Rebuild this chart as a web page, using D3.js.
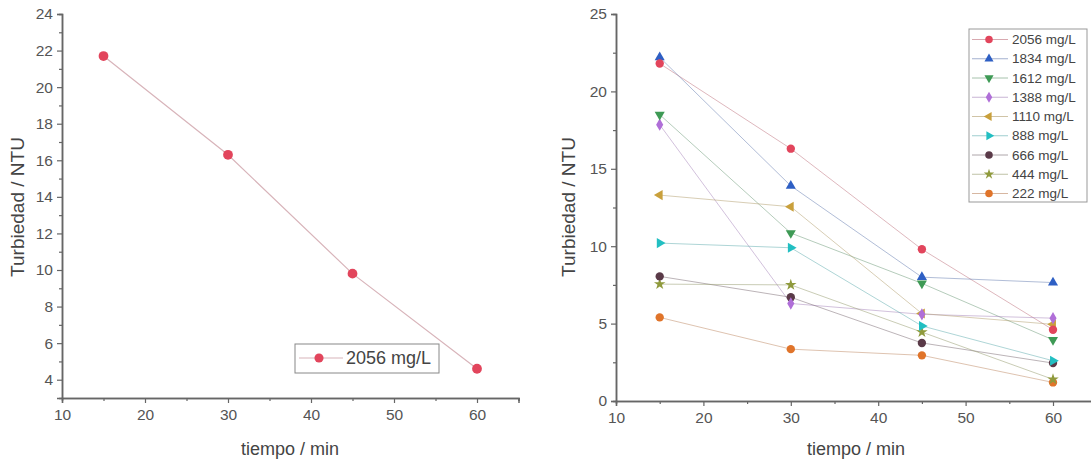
<!DOCTYPE html>
<html>
<head>
<meta charset="utf-8">
<script src="https://cdn.jsdelivr.net/npm/d3@7"></script>
<style>
  body { margin: 0; background: #fff; }
  svg { font-family: "Liberation Sans", Arial, sans-serif; }
  .tick text { fill: #555; }
</style>
</head>
<body>
<div id="chart"></div>
<script>
var times = [15, 30, 45, 60];
var leftValues = [21.7, 16.3, 9.8, 4.6];

var seriesNames = ["2056 mg/L", "1834 mg/L", "1612 mg/L", "1388 mg/L", "1110 mg/L", "888 mg/L", "666 mg/L", "444 mg/L", "222 mg/L"];
var s2056 = [21.8, 16.3, 9.8, 4.6];
var s1834 = [22.2, 13.9, 8.0, 7.65];
var s1612 = [18.5, 10.85, 7.6, 3.95];
var s1388 = [17.85, 6.3, 5.6, 5.35];
var s1110 = [13.3, 12.55, 5.65, 4.95];
var s888 = [10.2, 9.9, 4.85, 2.6];
var s666 = [8.05, 6.7, 3.75, 2.45];
var s444 = [7.55, 7.5, 4.45, 1.4];
var s222 = [5.4, 3.35, 2.95, 1.2];
var seriesValues = [s2056, s1834, s1612, s1388, s1110, s888, s666, s444, s222];

var colors = ["#e2455c", "#2e5fc4", "#3e9a55", "#b06fd8", "#c9a03c", "#22bfc2", "#5a3a48", "#8f9a3c", "#e0742a"];
var shapes = ["circle", "up", "down", "diamond", "left", "right", "circle", "star", "circle"];

var leftTicksY = [4, 6, 8, 10, 12, 14, 16, 18, 20, 22, 24];
var rightTicksY = [0, 5, 10, 15, 20, 25];
var ticksX = [10, 20, 30, 40, 50, 60];

var width = 1091, height = 461;
var svg = d3.select("#chart").append("svg").attr("width", width).attr("height", height);

function symbolPath(shape, size) {
  var t = d3.symbolCircle, rot = 0;
  if (shape == "up") t = d3.symbolTriangle;
  if (shape == "down") { t = d3.symbolTriangle; rot = 180; }
  if (shape == "left") { t = d3.symbolTriangle; rot = -90; }
  if (shape == "right") { t = d3.symbolTriangle; rot = 90; }
  if (shape == "diamond") t = d3.symbolDiamond;
  if (shape == "star") t = d3.symbolStar;
  return {d: d3.symbol().type(t).size(size)(), rot: rot};
}

function drawMarker(g, x, y, shape, color, size) {
  var s = symbolPath(shape, size);
  g.append("path")
    .attr("d", s.d)
    .attr("transform", `translate(${x},${y}) rotate(${s.rot})`)
    .attr("fill", color);
}

function markerSize(shape, base) {
  if (shape == "circle") return base;
  if (shape == "star") return base * 0.75;
  return base * 0.8;
}

function drawAxes(xScale, yScale, yMajor, yMinor, xMinor) {
  svg.append("g")
    .attr("transform", `translate(0,${yScale.range()[0]})`)
    .call(d3.axisBottom(xScale).tickValues(ticksX).tickSize(5).tickPadding(6));
  svg.append("g")
    .attr("transform", `translate(0,${yScale.range()[0]})`)
    .call(d3.axisBottom(xScale).tickValues(xMinor).tickSize(3).tickFormat(""));
  svg.append("g")
    .attr("transform", `translate(${xScale.range()[0]},0)`)
    .call(d3.axisLeft(yScale).tickValues(yMajor).tickSize(5).tickPadding(4));
  svg.append("g")
    .attr("transform", `translate(${xScale.range()[0]},0)`)
    .call(d3.axisLeft(yScale).tickValues(yMinor).tickSize(3).tickFormat(""));
  svg.selectAll(".domain").attr("stroke", "#666").attr("stroke-width", 1.5);
  svg.selectAll(".tick line").attr("stroke", "#666").attr("stroke-width", 1.2);
  svg.selectAll(".tick text").attr("font-size", 15.5);
}

// left chart
var xL = d3.scaleLinear().domain([10, 65]).range([62, 518.5]);
var yL = d3.scaleLinear().domain([3, 24]).range([398, 14]);
drawAxes(xL, yL, leftTicksY, [5, 7, 9, 11, 13, 15, 17, 19, 21, 23], [15, 25, 35, 45, 55, 65]);

var gL = svg.append("g");
gL.append("path")
  .datum(times.map(function(t, i){ return [t, leftValues[i]]; }))
  .attr("d", d3.line().x(function(d){ return xL(d[0]); }).y(function(d){ return yL(d[1]); }))
  .attr("fill", "none")
  .attr("stroke", "#d8b4ba")
  .attr("stroke-width", 1.2);
times.forEach(function(t, i){ drawMarker(gL, xL(t), yL(leftValues[i]), "circle", colors[0], 75); });

svg.append("rect").attr("x", 295).attr("y", 344).attr("width", 144).attr("height", 29)
  .attr("fill", "#fff").attr("stroke", "#888").attr("stroke-width", 1);
svg.append("line").attr("x1", 299).attr("x2", 343).attr("y1", 358).attr("y2", 358)
  .attr("stroke", "#d8b4ba").attr("stroke-width", 1.2);
drawMarker(svg, 319, 358, "circle", colors[0], 65);
svg.append("text").attr("x", 346).attr("y", 364).attr("font-size", 18).attr("fill", "#444").text(seriesNames[0]);

svg.append("text").attr("x", 290).attr("y", 455).attr("text-anchor", "middle")
  .attr("font-size", 18).attr("fill", "#444").text("tiempo / min");
svg.append("text").attr("transform", "translate(24,207) rotate(-90)").attr("text-anchor", "middle")
  .attr("font-size", 19).attr("fill", "#444").text("Turbiedad / NTU");

// right chart
var xR = d3.scaleLinear().domain([10, 65]).range([616, 1096.7]);
var yR = d3.scaleLinear().domain([0, 25]).range([401, 14]);
drawAxes(xR, yR, rightTicksY, [2.5, 7.5, 12.5, 17.5, 22.5], [15, 25, 35, 45, 55, 65]);

var gR = svg.append("g");
var line = d3.line().x(function(d){ return xR(d[0]); }).y(function(d){ return yR(d[1]); });
seriesValues.forEach(function(vals, k){
  gR.append("path")
    .datum(times.map(function(t, i){ return [t, vals[i]]; }))
    .attr("d", line)
    .attr("fill", "none")
    .attr("stroke", d3.interpolateRgb(colors[k], "#999")(0.5))
    .attr("stroke-opacity", 0.5)
    .attr("stroke-width", 1);
});
for (var k = seriesValues.length - 1; k >= 0; k--) {
  times.forEach(function(t, i){
    drawMarker(gR, xR(t), yR(seriesValues[k][i]), shapes[k], colors[k], markerSize(shapes[k], 55));
  });
}

svg.append("rect").attr("x", 969).attr("y", 29).attr("width", 118).attr("height", 173)
  .attr("fill", "#fff").attr("stroke", "#999").attr("stroke-width", 1);
seriesNames.forEach(function(name, k){
  var y = 39.5 + k * 19.25;
  svg.append("line").attr("x1", 972).attr("x2", 1008).attr("y1", y).attr("y2", y)
    .attr("stroke", d3.interpolateRgb(colors[k], "#999")(0.5)).attr("stroke-opacity", 0.6).attr("stroke-width", 1);
  drawMarker(svg, 989, y, shapes[k], colors[k], markerSize(shapes[k], 45));
  svg.append("text").attr("x", 1012).attr("y", y + 4.5).attr("font-size", 13.5).attr("fill", "#444").text(name);
});

svg.append("text").attr("x", 856).attr("y", 455).attr("text-anchor", "middle")
  .attr("font-size", 18).attr("fill", "#444").text("tiempo / min");
svg.append("text").attr("transform", "translate(575,207) rotate(-90)").attr("text-anchor", "middle")
  .attr("font-size", 19).attr("fill", "#444").text("Turbiedad / NTU");
</script>
</body>
</html>
